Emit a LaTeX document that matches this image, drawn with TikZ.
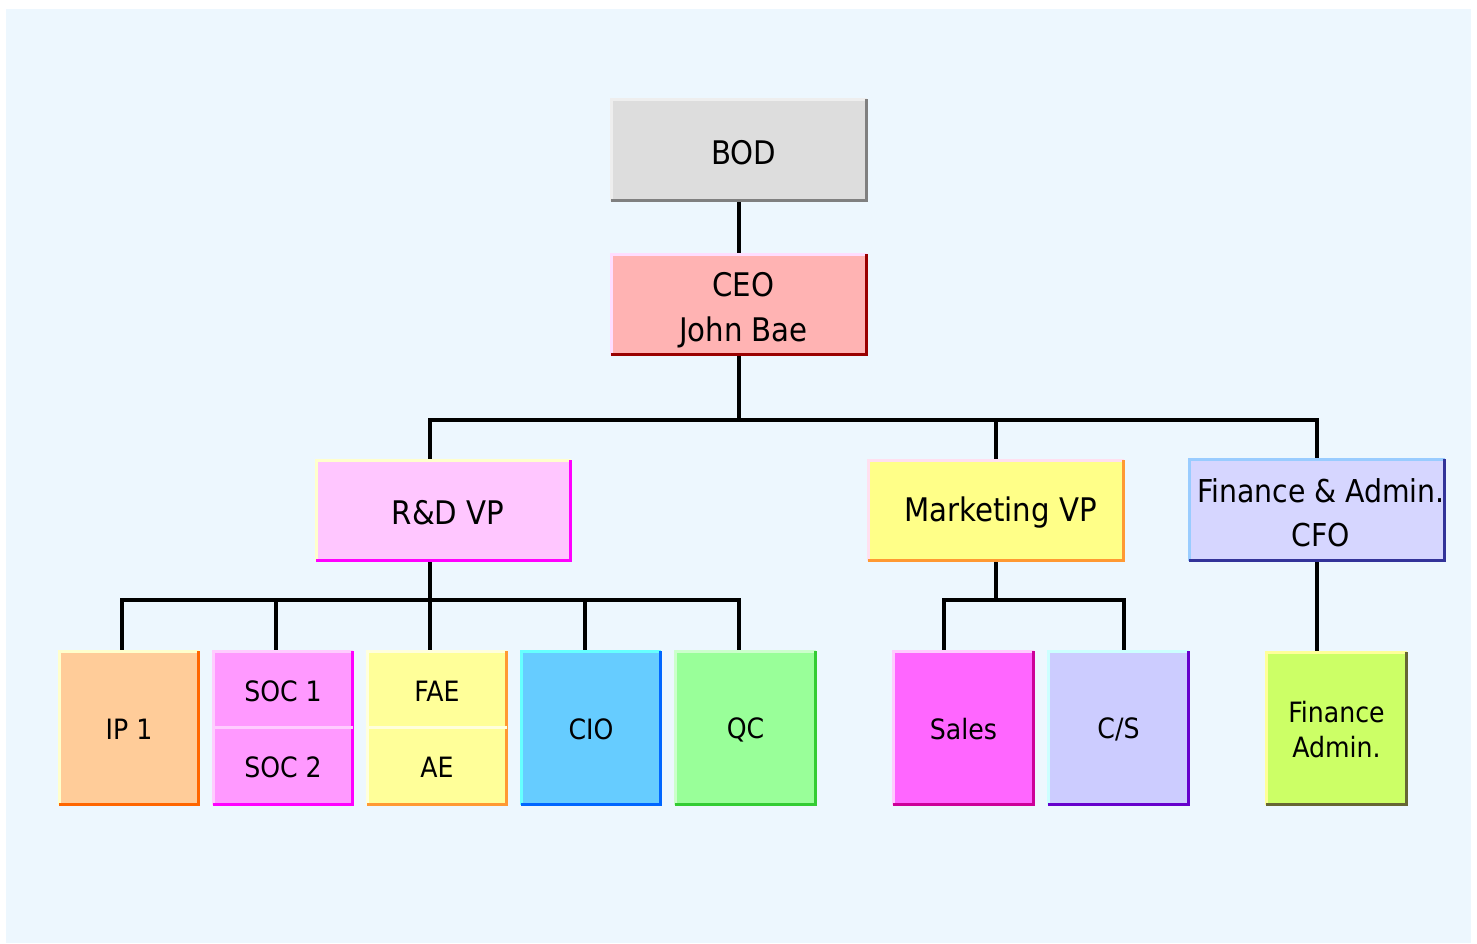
\documentclass[tikz,border=0pt]{standalone}
\usepackage{fontspec}
\setmainfont{DejaVu Sans Condensed}
\usetikzlibrary{calc}

% page and box colours
\definecolor{pagebg}{HTML}{EDF7FE}
\definecolor{bodFill}{HTML}{DDDDDD}\definecolor{bodLight}{HTML}{EEEEEE}\definecolor{bodDark}{HTML}{808080}
\definecolor{ceoFill}{HTML}{FFB3B3}\definecolor{ceoLight}{HTML}{FFDDFF}\definecolor{ceoDark}{HTML}{990000}
\definecolor{rdFill}{HTML}{FFC6FF}\definecolor{rdLight}{HTML}{FFFFCC}\definecolor{rdDark}{HTML}{FF00FF}
\definecolor{mkFill}{HTML}{FFFF88}\definecolor{mkLight}{HTML}{FFE0F0}\definecolor{mkDark}{HTML}{FF9933}
\definecolor{cfoFill}{HTML}{D6D6FF}\definecolor{cfoLight}{HTML}{99CCFF}\definecolor{cfoDark}{HTML}{333399}
\definecolor{ipFill}{HTML}{FFCC99}\definecolor{ipLight}{HTML}{FFFFCC}\definecolor{ipDark}{HTML}{FF6600}
\definecolor{socFill}{HTML}{FF99FF}\definecolor{socLight}{HTML}{FFCCFF}\definecolor{socDark}{HTML}{FF00FF}
\definecolor{faeFill}{HTML}{FFFF99}\definecolor{faeLight}{HTML}{FFFFDD}\definecolor{faeDark}{HTML}{FF9933}
\definecolor{cioFill}{HTML}{66CCFF}\definecolor{cioLight}{HTML}{66FFFF}\definecolor{cioDark}{HTML}{0066FF}
\definecolor{qcFill}{HTML}{99FF99}\definecolor{qcLight}{HTML}{CCFFCC}\definecolor{qcDark}{HTML}{33CC33}
\definecolor{slFill}{HTML}{FF66FF}\definecolor{slLight}{HTML}{FFCCFF}\definecolor{slDark}{HTML}{CC0099}
\definecolor{csFill}{HTML}{CCCCFF}\definecolor{csLight}{HTML}{CCFFFF}\definecolor{csDark}{HTML}{6600CC}
\definecolor{faFill}{HTML}{CCFF66}\definecolor{faLight}{HTML}{FFFF99}\definecolor{faDark}{HTML}{666633}

\newcommand\chartbig{\fontsize{32.5}{45}\selectfont}
\newcommand\chartmid{\fontsize{31.5}{44}\selectfont}
\newcommand\chartsmall{\fontsize{28}{35}\selectfont}

% raised edge: light top/left, dark right/bottom, spanning #1 (top) to #2 (bottom)
\newcommand\bevelbox[4]{%
  \draw[line width=3pt,#3] (#2.south west) |- (#1.north east);
  \draw[line width=3pt,#4] (#1.north east) |- (#2.south west);}

\tikzset{
  box/.style={inner sep=0pt, minimum width=255pt, minimum height=100pt},
  unit/.style={inner sep=0pt, minimum width=139pt, minimum height=153pt},
  half/.style={inner sep=0pt, minimum width=139pt, minimum height=76.5pt},
  bigtext/.style={inner sep=0pt, align=center, font=\chartbig, text=black,
                  xshift=4.5pt, yshift=-2.5pt},
  smalltext/.style={inner sep=0pt, align=center, font=\chartsmall, text=black,
                    yshift=-1.5pt},
  conn/.style={line width=3.5pt, black},
}

\begin{document}
\begin{tikzpicture}[x=1pt, y=-1pt]
\useasboundingbox (0,0) rectangle (1477,943);
\fill[white] (0,0) rectangle (1477,943);
\fill[pagebg] (6,9) rectangle (1471,943);

% top levels
\node[box, fill=bodFill, minimum height=101pt] (bod) at (739,150) {};
\node[box, fill=ceoFill] (ceo) at (739,304.5) {};
\node[box, fill=rdFill, minimum width=254pt] (rd) at (443.5,510.5) {};
\node[box, fill=mkFill] (mkt) at (996,510.5) {};
\node[box, fill=cfoFill, minimum height=101pt] (cfo) at (1317,510) {};

% units
\node[unit, fill=ipFill] (ip) at (129,728) {};
\node[half, fill=socFill] (soc1) at (283,689.75) {};
\node[half, fill=socFill] (soc2) at (283,766.25) {};
\node[half, fill=faeFill] (fae) at (437,689.75) {};
\node[half, fill=faeFill] (ae) at (437,766.25) {};
\node[unit, fill=cioFill] (cio) at (591,728) {};
\node[unit, fill=qcFill, minimum width=140pt] (qc) at (745.5,728) {};
\node[unit, fill=slFill, minimum width=140pt] (sales) at (963.5,728) {};
\node[unit, fill=csFill, minimum width=140pt] (cs) at (1118.5,728) {};
\node[unit, fill=faFill, minimum width=140pt, minimum height=152pt] (fa) at (1336.5,728.5) {};

% bus junctions
\coordinate (busTop) at (739,420);
\coordinate (busRD) at (430,600);
\coordinate (busMkt) at (996,600);

% connectors
\draw[conn] (bod.south) -- (ceo.north);
\draw[conn] (ceo.south) -- (busTop);
\draw[conn] ([xshift=-13.5pt]rd.north) |- (busTop) -| (cfo.north);
\draw[conn] (mkt.north) -- (mkt.north |- busTop);

\draw[conn] ([xshift=-13.5pt]rd.south) -- (busRD);
\draw[conn] ([xshift=-7pt]ip.north) |- (busRD) -| ([xshift=-6.5pt]qc.north);
\draw[conn] ([xshift=-7pt]soc1.north) -- ([xshift=-7pt]soc1.north |- busRD);
\draw[conn] ([xshift=-7pt]fae.north) -- ([xshift=-7pt]fae.north |- busRD);
\draw[conn] ([xshift=-6pt]cio.north) -- ([xshift=-6pt]cio.north |- busRD);

\draw[conn] (mkt.south) -- (busMkt);
\draw[conn] ([xshift=-19.5pt]sales.north) |- (busMkt) -| ([xshift=5.5pt]cs.north);

\draw[conn] (cfo.south) -- (cfo.south |- fa.north);

% raised edges
\bevelbox{bod}{bod}{bodLight}{bodDark}
\bevelbox{ceo}{ceo}{ceoLight}{ceoDark}
\bevelbox{rd}{rd}{rdLight}{rdDark}
\bevelbox{mkt}{mkt}{mkLight}{mkDark}
\bevelbox{cfo}{cfo}{cfoLight}{cfoDark}
\bevelbox{ip}{ip}{ipLight}{ipDark}
\bevelbox{soc1}{soc2}{socLight}{socDark}
\bevelbox{fae}{ae}{faeLight}{faeDark}
\bevelbox{cio}{cio}{cioLight}{cioDark}
\bevelbox{qc}{qc}{qcLight}{qcDark}
\bevelbox{sales}{sales}{slLight}{slDark}
\bevelbox{cs}{cs}{csLight}{csDark}
\bevelbox{fa}{fa}{faLight}{faDark}

% dividers between stacked units
\draw[line width=3pt, socLight] (soc2.north west) -- (soc2.north east);
\draw[line width=3pt, faeLight] (ae.north west) -- (ae.north east);

% captions
\node[bigtext] (bodT) at (bod) {BOD};
\node[bigtext, yshift=-3.5pt] (ceoT) at (ceo) {CEO\\John Bae};
\node[bigtext] (rdT) at (rd) {R\&D VP};
\node[bigtext] (mktT) at (mkt) {Marketing VP};
\node[bigtext, font=\chartmid, xshift=-0.5pt] (cfoT) at (cfo) {Finance \& Admin.\\CFO};
\node[smalltext] (ipT) at (ip) {IP 1};
\node[smalltext] (soc1T) at (soc1) {SOC 1};
\node[smalltext] (soc2T) at (soc2) {SOC 2};
\node[smalltext] (faeT) at (fae) {FAE};
\node[smalltext] (aeT) at (ae) {AE};
\node[smalltext] (cioT) at (cio) {CIO};
\node[smalltext] (qcT) at (qc) {QC};
\node[smalltext] (salesT) at (sales) {Sales};
\node[smalltext] (csT) at (cs) {C/S};
\node[smalltext] (faT) at (fa) {Finance\\Admin.};
\end{tikzpicture}
\end{document}
